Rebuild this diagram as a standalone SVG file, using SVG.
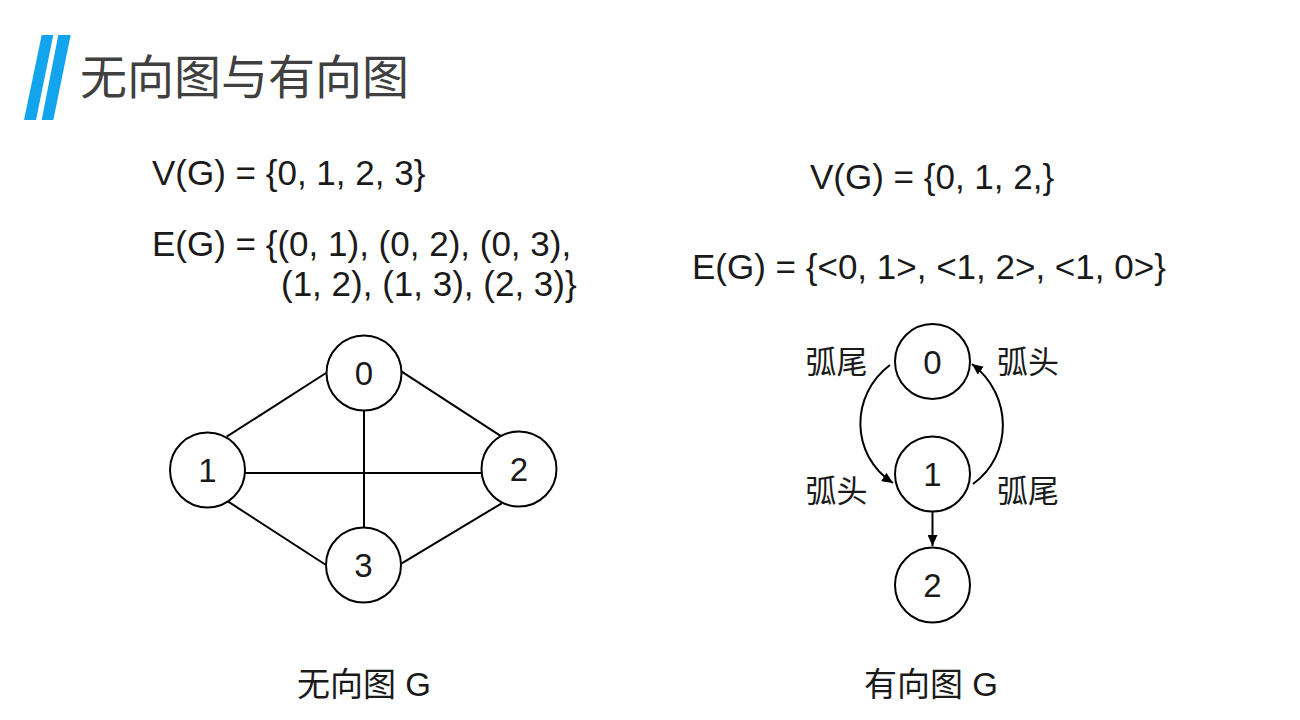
<svg xmlns="http://www.w3.org/2000/svg" width="1300" height="720" viewBox="0 0 1300 720">
<style>
.node circle { fill: #ffffff; stroke: #000000; stroke-width: 2; }
.node text { font-family: "Liberation Sans", Arial, sans-serif; font-size: 33px; fill: #1a1a1a; text-anchor: middle; }
.edge { stroke: #000000; stroke-width: 2; fill: none; }
.formula { font-family: "Liberation Sans", Arial, sans-serif; font-size: 35px; fill: #1a1a1a; }
.cjk { font-family: "Liberation Sans", "Noto Sans CJK SC", sans-serif; fill: #1a1a1a; }
.lbl { font-size: 31px; text-anchor: middle; }
.cap { font-size: 33px; text-anchor: middle; }
</style>
<defs>
<marker id="arrow" markerUnits="userSpaceOnUse" markerWidth="12" markerHeight="10" refX="11" refY="5" orient="auto">
<path d="M0,0 L11,5 L0,10 Z" fill="#000000"/>
</marker>
</defs>
<rect x="0" y="0" width="1300" height="720" fill="#ffffff"/>
<g id="title">
<polygon points="41.7,35 53.3,35 36,120 24,120" fill="#12A4EC"/>
<polygon points="58.3,35 70.7,35 53.3,120 41.7,120" fill="#12A4EC"/>
<text x="80" y="94" font-family="'Noto Sans CJK SC', sans-serif" font-size="47" fill="#404040">无向图与有向图</text>
</g>
<g id="formulas">
<text class="formula" x="152" y="185">V(G) = {0, 1, 2, 3}</text>
<text class="formula" x="152" y="256">E(G) = {(0, 1), (0, 2), (0, 3),</text>
<text class="formula" x="281" y="296">(1, 2), (1, 3), (2, 3)}</text>
<text class="formula" x="810" y="189">V(G) = {0, 1, 2,}</text>
<text class="formula" x="692" y="279">E(G) = {&lt;0, 1&gt;, &lt;1, 2&gt;, &lt;1, 0&gt;}</text>
</g>
<g id="connectors">
<line class="edge" x1="226.7" y1="436.7" x2="326" y2="373"/>
<line class="edge" x1="401.7" y1="371.7" x2="501.7" y2="436.7"/>
<line class="edge" x1="245" y1="473" x2="482" y2="473"/>
<line class="edge" x1="364" y1="410" x2="364" y2="528"/>
<line class="edge" x1="228.3" y1="501.7" x2="326" y2="565"/>
<line class="edge" x1="501.7" y1="503.3" x2="401.7" y2="563.3"/>
<path class="edge" d="M890,365 C850,395 850,455 893,483" marker-end="url(#arrow)"/>
<path class="edge" d="M973,484 C1013,455 1013,395 972,364" marker-end="url(#arrow)"/>
<line class="edge" x1="932.5" y1="512" x2="932.5" y2="546" marker-end="url(#arrow)"/>
</g>
<g id="u0" class="node"><circle cx="364" cy="373" r="37.5"/><text x="364" y="385">0</text></g>
<g id="u1" class="node"><circle cx="207.5" cy="470" r="37.5"/><text x="207.5" y="482">1</text></g>
<g id="u2" class="node"><circle cx="519" cy="469" r="37.5"/><text x="519" y="481">2</text></g>
<g id="u3" class="node"><circle cx="363.5" cy="565" r="37.5"/><text x="363.5" y="577">3</text></g>
<g id="d0" class="node"><circle cx="932.5" cy="361.5" r="37.5"/><text x="932.5" y="373.5">0</text></g>
<g id="d1" class="node"><circle cx="932.5" cy="474" r="37.5"/><text x="932.5" y="486">1</text></g>
<g id="d2" class="node"><circle cx="932.5" cy="585" r="37.5"/><text x="932.5" y="597">2</text></g>
<g id="labels">
<text class="cjk lbl" x="836.5" y="373">弧尾</text>
<text class="cjk lbl" x="1028" y="373">弧头</text>
<text class="cjk lbl" x="836.5" y="502">弧头</text>
<text class="cjk lbl" x="1028" y="502">弧尾</text>
<text class="cjk cap" x="364" y="696">无向图 G</text>
<text class="cjk cap" x="931" y="696">有向图 G</text>
</g>
</svg>
